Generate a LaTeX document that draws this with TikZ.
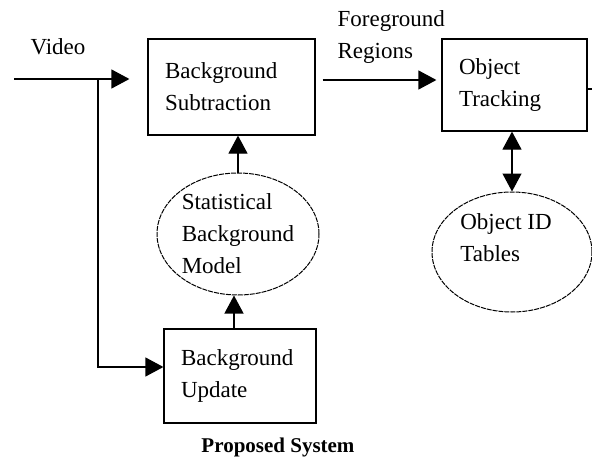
\documentclass[tikz,border=0pt]{standalone}
\usepackage{fontspec}
\setmainfont{Liberation Serif}
\usetikzlibrary{arrows.meta,shapes.geometric}

\begin{document}
\begin{tikzpicture}[x=1pt, y=-1pt,
    line width=1.2pt,
    procbox/.style={draw, align=left, inner xsep=17pt, inner ysep=0pt},
    storeell/.style={draw, ellipse, line width=1pt,
      dash pattern=on 5pt off 1pt, inner sep=0pt},
    arr/.style={-{Triangle[length=18pt,width=19pt]}},
    arrboth/.style={{Triangle[length=18pt,width=19pt]}-{Triangle[length=18pt,width=19pt]}}]

  \useasboundingbox (0,0) rectangle (592,460);
  \fontsize{23}{32}\selectfont

  % boxes
  \node[procbox, text width=133pt, minimum height=96pt]
  (bs) at (231.5,87) {Background\\Subtraction};
  \node[procbox, text width=111pt, minimum height=92pt]
  (ot) at (514.5,85) {Object\\Tracking};
  \node[procbox, text width=118pt, minimum height=94pt]
  (bu) at (240,376) {Background\\Update};

  % data stores
  \node[storeell, minimum width=162pt, minimum height=122pt] (sbm) at (238,234) {};
  \node[align=left, inner sep=0pt] (sbmtext) at (sbm) {Statistical\\Background\\Model};
  \node[storeell, minimum width=160pt, minimum height=120pt] (oid) at (512,252) {};
  \node[align=left, inner sep=0pt] (oidtext) at (506,238) {Object ID\\Tables};

  % labels
  \node[anchor=west, inner sep=0pt] (videolbl) at (30,47) {Video};
  \node[anchor=west, align=left, inner sep=0pt]
  (fglbl) at (337,37) {Foreground\\Regions};
  \node[font=\fontsize{21}{24}\selectfont\bfseries] (title) at (278,447) {Proposed System};

  % input
  \coordinate (vin) at (14,79);
  \coordinate (split) at (98,79);
  \coordinate (outend) at (592,89);

  \draw (vin) -- (split);
  \draw[arr, shorten >=18pt] (split) -- (split -| bs.west);
  \draw[arr] (split) |- ([yshift=9pt]bu.west);

  \draw[arr, shorten <=7pt, shorten >=5pt]
  ([yshift=7pt]bs.east) -- ([yshift=7pt]bs.east -| ot.west);
  \draw ([yshift=-4pt]ot.east) -- (outend);

  \draw[arr] ([xshift=-4pt]bu.north -| sbm) -- ([xshift=-4pt]sbm.south);
  \draw[arr] (sbm.north) -- (sbm.north |- bs.south);
  \draw[arrboth] (oid.north -| oid) -- (ot.south -| oid);

\end{tikzpicture}
\end{document}
